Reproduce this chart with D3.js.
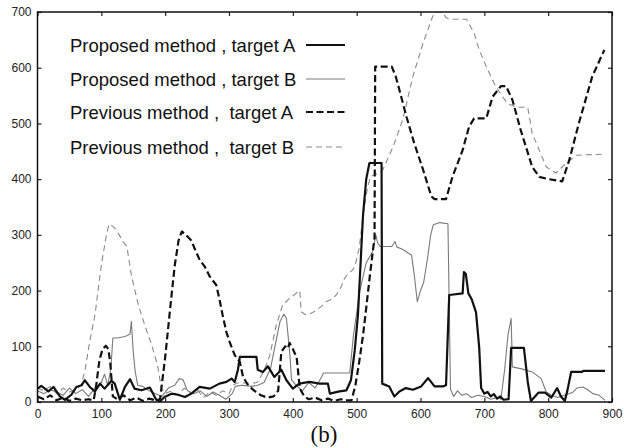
<!DOCTYPE html>
<html>
<head>
<meta charset="utf-8">
<script src="https://cdn.jsdelivr.net/npm/d3@7/dist/d3.min.js"></script>
<style>
  html, body { margin: 0; padding: 0; background: #fff; }
  svg { display: block; }
</style>
</head>
<body>
<svg id="chart" width="624" height="448"></svg>
<script>
// ---------------- data ----------------
const xTicks = [0, 100, 200, 300, 400, 500, 600, 700, 800, 900];
const yTicks = [0, 100, 200, 300, 400, 500, 600, 700];

const seriesNames = [
  "Proposed method , target A",
  "Proposed method , target B",
  "Previous method ,  target A",
  "Previous method ,  target B"
];

// Proposed method, target A (thick solid)
const propAX = [0,6,17,25,35,43,53,61,69,74,82,90,98,105,116,121,129,137,145,152,163,176,186,192,199,210,220,231,241,254,270,285,296,304,309,314,317,343,345,353,361,371,382,390,400,410,426,442,455,458,473,484,491,497,502,506,510,515,520,539,540,551,559,567,577,588,601,612,622,635,640,645,666,668,671,675,680,687,692,695,700,705,710,715,720,725,730,738,742,762,768,773,778,785,795,805,814,820,826,830,836,853,855,889];
const propAY = [24,29,19,27,10,4,13,27,30,39,27,19,33,24,38,33,4,27,41,24,21,26,4,1,9,15,13,9,15,27,24,33,36,42,36,58,81,81,58,54,64,45,58,39,24,33,36,33,33,15,19,21,39,93,156,246,336,400,429,429,33,28,10,19,25,22,28,43,28,28,30,192,195,233,230,195,185,161,97,25,15,18,10,14,6,10,4,5,97,97,36,2,8,17,17,8,25,10,2,20,54,54,56,56];

// Proposed method, target B (thin solid)
const propBX = [0,10,20,30,40,50,60,70,80,90,100,105,110,115,118,125,135,140,145,147,150,153,157,165,175,185,195,205,215,222,228,235,245,255,265,275,285,295,305,310,320,335,345,355,365,372,380,386,390,395,398,405,415,425,435,445,448,489,495,505,515,525,530,533,537,555,560,563,570,575,580,586,590,595,600,605,611,616,620,630,643,647,652,658,665,672,680,690,700,710,720,726,732,737,742,744,760,775,789,797,805,815,825,838,845,854,862,870,880,889];
const propBY = [20,15,22,18,12,25,15,22,10,25,35,50,30,60,115,115,117,119,122,145,90,55,30,28,20,15,10,25,30,42,40,20,15,20,10,18,12,5,15,28,30,28,30,35,60,100,145,158,150,90,40,30,20,35,25,45,52,52,120,200,250,270,300,285,279,279,288,278,275,272,268,264,230,180,200,215,258,300,318,322,320,23,10,20,12,15,8,12,10,5,8,5,60,120,150,63,59,54,42,18,12,8,12,17,25,27,22,15,12,3];

// Previous method, target A (thick dashed)
const prevAX = [0,10,20,30,40,50,60,70,80,88,92,97,102,107,111,114,118,125,135,145,155,165,175,185,192,200,208,215,221,226,231,235,241,246,254,262,270,280,285,290,296,301,309,317,322,330,340,350,360,370,377,382,388,392,395,400,406,411,418,425,435,445,455,465,475,485,492,498,504,510,515,521,526,528,529,555,561,567,578,590,604,617,622,640,650,666,676,684,703,713,726,734,744,757,775,786,801,822,833,848,869,888];
const prevAY = [10,5,12,3,8,2,6,3,5,3,30,75,95,101,95,70,10,5,12,3,8,2,6,3,5,80,170,245,290,306,302,297,290,276,255,243,225,210,185,156,125,108,84,72,45,30,20,12,8,10,20,90,100,96,106,95,80,24,10,5,8,3,6,2,5,3,3,30,72,120,169,230,277,295,602,602,585,560,512,465,417,369,364,364,404,452,494,509,509,548,567,567,542,488,422,404,400,396,434,500,584,632];

// Previous method, target B (thin dashed)
const prevBX = [0,10,20,30,40,50,60,68,74,82,90,100,108,112,117,121,128,134,140,147,158,168,179,188,194,200,210,220,230,240,250,260,270,280,290,300,306,312,340,345,351,358,364,374,384,395,402,408,411,413,421,430,437,445,452,460,468,475,481,488,494,497,504,510,517,522,526,534,541,557,572,588,604,619,624,634,640,645,672,684,692,703,718,736,750,768,775,797,812,828,844,889];
const prevBY = [25,20,28,15,25,18,22,30,54,110,156,246,300,319,316,312,300,288,279,228,174,138,102,66,25,15,20,12,25,15,22,8,18,12,20,15,30,34,34,36,48,65,84,138,174,186,192,198,200,162,156,160,165,172,180,184,192,205,222,232,237,243,276,336,385,405,407,410,417,458,506,584,644,692,700,700,690,687,687,662,632,602,566,536,529,529,482,422,411,428,443,445];

// ---------------- chart ----------------
const svg = d3.select("#chart");
const W = 624, H = 448;
const mLeft = 37.5, mRight = 612, mTop = 12, mBottom = 402;

const x = d3.scaleLinear().domain([0, 900]).range([mLeft, mRight]);
const y = d3.scaleLinear().domain([0, 700]).range([mBottom, mTop]);

svg.append("rect").attr("width", W).attr("height", H).attr("fill", "#fff");

svg.append("defs").append("clipPath").attr("id", "plotclip")
  .append("rect").attr("x", mLeft).attr("y", mTop)
  .attr("width", mRight - mLeft).attr("height", mBottom - mTop);

const tickFont = "'Liberation Sans', Arial, Helvetica, sans-serif";
const TL = 4;

const gB = svg.append("g").attr("transform", `translate(0,${mBottom})`)
  .call(d3.axisBottom(x).tickValues(xTicks).tickSize(-TL).tickPadding(7));
const gT = svg.append("g").attr("transform", `translate(0,${mTop})`)
  .call(d3.axisTop(x).tickValues(xTicks).tickSize(-TL).tickFormat(""));
const gL = svg.append("g").attr("transform", `translate(${mLeft},0)`)
  .call(d3.axisLeft(y).tickValues(yTicks).tickSize(-TL).tickPadding(6));
const gR = svg.append("g").attr("transform", `translate(${mRight},0)`)
  .call(d3.axisRight(y).tickValues(yTicks).tickSize(-TL).tickFormat(""));

[gB, gT, gL, gR].forEach(g => {
  g.select(".domain").remove();
  g.selectAll(".tick line").attr("stroke", "#222").attr("stroke-width", 1.2);
  g.selectAll(".tick text").attr("fill", "#222")
    .style("font-family", tickFont).style("font-size", "12px");
});

const line = d3.line().x(d => x(d[0])).y(d => y(d[1]));
const zip = (xs, ys) => xs.map((v, i) => [v, ys[i]]);

const styles = [
  { color: "#111", width: 2.2, dash: null },
  { color: "#7a7a7a", width: 1.1, dash: null },
  { color: "#111", width: 2.2, dash: "7,3.5" },
  { color: "#8a8a8a", width: 1.1, dash: "6,4" }
];
const seriesData = [
  zip(propAX, propAY),
  zip(propBX, propBY),
  zip(prevAX, prevAY),
  zip(prevBX, prevBY)
];

const plot = svg.append("g").attr("clip-path", "url(#plotclip)");
[3, 1, 2, 0].forEach(i => {
  const s = styles[i];
  plot.append("path")
    .datum(seriesData[i])
    .attr("fill", "none")
    .attr("stroke", s.color)
    .attr("stroke-width", s.width)
    .attr("stroke-linejoin", "round")
    .attr("stroke-dasharray", s.dash)
    .attr("d", line);
});

svg.append("rect")
  .attr("x", mLeft).attr("y", mTop)
  .attr("width", mRight - mLeft).attr("height", mBottom - mTop)
  .attr("fill", "none").attr("stroke", "#111").attr("stroke-width", 1.5);

const legY = [45, 79, 112, 147];
const leg = svg.append("g");
seriesNames.forEach((name, i) => {
  leg.append("text")
    .attr("x", 70).attr("y", legY[i] + 6.5)
    .style("font-family", tickFont).style("font-size", "18.5px")
    .style("white-space", "pre")
    .attr("fill", "#111")
    .text(name);
  const s = styles[i];
  leg.append("line")
    .attr("x1", 306).attr("x2", 345)
    .attr("y1", legY[i]).attr("y2", legY[i])
    .attr("stroke", s.color).attr("stroke-width", s.width)
    .attr("stroke-dasharray", s.dash);
});

svg.append("text")
  .attr("x", 324).attr("y", 442)
  .attr("text-anchor", "middle")
  .style("font-family", "'Liberation Serif', 'Times New Roman', serif")
  .style("font-size", "23px")
  .attr("fill", "#111")
  .text("(b)");
</script>
</body>
</html>
